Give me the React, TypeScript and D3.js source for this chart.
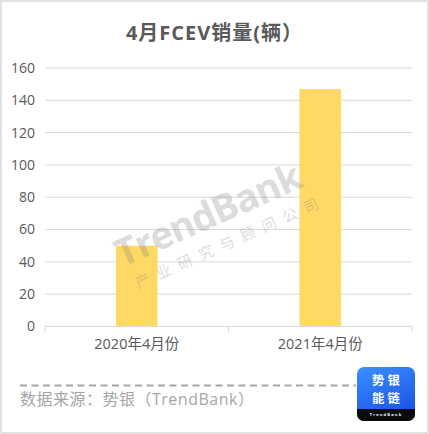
import React from "react";
import * as d3 from "d3";

const categories = ["2020年4月份", "2021年4月份"];
const sales = [50, 147];
const yTicks = [0, 20, 40, 60, 80, 100, 120, 140, 160];

const W = 429;
const H = 434;
const margin = { left: 45, right: 17, top: 68, bottom: 108 };

export default function App() {
  const x = d3
    .scaleBand<string>()
    .domain(categories)
    .range([margin.left, W - margin.right])
    .paddingInner(0.773)
    .paddingOuter(0.3865);
  const y = d3.scaleLinear().domain([0, 160]).range([H - margin.bottom + 0.5, margin.top]);
  const font = "'Open Sans', 'Noto Sans CJK SC', sans-serif";
  const band = (W - margin.right - margin.left) / categories.length;
  const y0 = y(0);

  return (
    <svg
      width={W}
      height={H}
      style={{ position: "absolute", left: 0, top: 0, background: "#fff" }}
      fontFamily={font}
    >
      <rect x={1} y={1} width={W - 2} height={H - 2} fill="#fff" stroke="#d9d9d9" strokeWidth={1.5} />
      <text x={214.5} y={40} textAnchor="middle" fontSize={20} fontWeight="bold" fill="#595959" letterSpacing={1}>
        4月FCEV销量(辆）
      </text>

      {yTicks.map((t) => (
        <g key={t}>
          {t > 0 && (
            <line x1={margin.left} x2={W - margin.right} y1={y(t)} y2={y(t)} stroke="#d9d9d9" strokeWidth={1} />
          )}
          <text x={35} y={y(t)} dy="0.35em" textAnchor="end" fontSize={14} fill="#595959">
            {t}
          </text>
        </g>
      ))}

      {categories.map((c, i) => (
        <rect key={c} x={x(c)} y={y(sales[i])} width={x.bandwidth()} height={y0 - y(sales[i])} fill="#FFD966" />
      ))}

      <line x1={margin.left} x2={W - margin.right} y1={y0} y2={y0} stroke="#d9d9d9" strokeWidth={1} />
      {[0, 1, 2].map((k) => (
        <line
          key={k}
          x1={margin.left + k * band}
          x2={margin.left + k * band}
          y1={y0}
          y2={y0 + 5}
          stroke="#d9d9d9"
          strokeWidth={1}
        />
      ))}
      {categories.map((c) => (
        <text key={c} x={(x(c) ?? 0) + x.bandwidth() / 2} y={344} dy="0.35em" textAnchor="middle" fontSize={14.5} fill="#595959">
          {c}
        </text>
      ))}

      {/* watermark */}
      <g transform="translate(213,227) rotate(-24)" opacity={0.27}>
        <text x={0} y={0} textAnchor="middle" fontSize={38} fontWeight="bold" fill="#7f7f7f" letterSpacing={-1}>
          TrendBank
        </text>
        <text x={10} y={26} textAnchor="middle" fontSize={15} fill="#7f7f7f" letterSpacing={8}>
          产业研究与顾问公司
        </text>
      </g>

      <line x1={20} x2={356} y1={385.5} y2={385.5} stroke="#a6a6a6" strokeWidth={2} strokeDasharray="7,4.5" />
      <text x={20} y={399} dy="0.35em" fontSize={16} fill="#a6a6a6" letterSpacing={0.5}>
        数据来源：势银（TrendBank）
      </text>

      <defs>
        <linearGradient id="logoGrad" x1="0" y1="0" x2="0.4" y2="1">
          <stop offset="0" stopColor="#3d8fff" />
          <stop offset="1" stopColor="#1a55e6" />
        </linearGradient>
        <clipPath id="logoClip">
          <rect x={357} y={367} width={58} height={54} rx={7} />
        </clipPath>
      </defs>
      <g clipPath="url(#logoClip)">
        <rect x={357} y={367} width={58} height={54} fill="url(#logoGrad)" />
        <rect x={357} y={409} width={58} height={12} fill="#0a0a0a" />
      </g>
      <text x={387.5} y={380.5} dy="0.35em" textAnchor="middle" fontSize={12.4} fontWeight="bold" fill="#fff" letterSpacing={3}>
        势银
      </text>
      <text x={387.5} y={398.5} dy="0.35em" textAnchor="middle" fontSize={12.4} fontWeight="bold" fill="#fff" letterSpacing={3}>
        能链
      </text>
      <text x={386} y={415} dy="0.35em" textAnchor="middle" fontSize={4} fontWeight="bold" fill="#fff" letterSpacing={1.2}>
        TrendBank
      </text>
    </svg>
  );
}
